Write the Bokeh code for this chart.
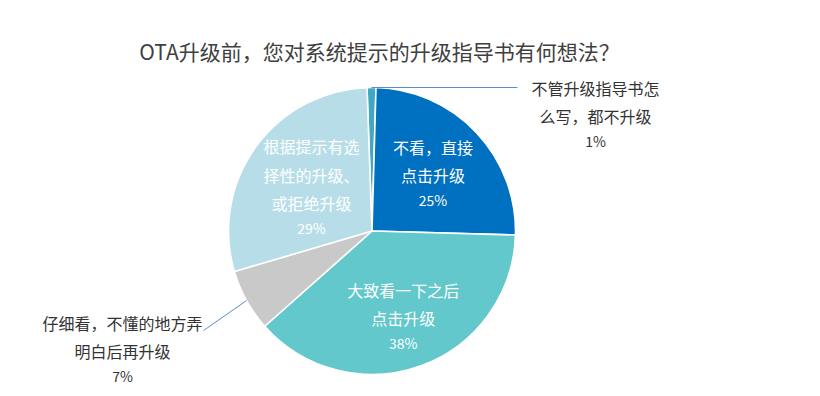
import math
from bokeh.plotting import figure
from bokeh.models import Range1d, ColumnDataSource
from bokeh.embed import file_html
from bokeh.resources import INLINE
from bokeh.core.properties import value

# ---------------- data ----------------
title = "OTA升级前，您对系统提示的升级指导书有何想法？"
categories = [
    "不管升级指导书怎么写，都不升级",
    "不看，直接点击升级",
    "大致看一下之后点击升级",
    "仔细看，不懂的地方弄明白后再升级",
    "根据提示有选择性的升级、或拒绝升级",
]
label_lines = [
    ["不管升级指导书怎", "么写，都不升级"],
    ["不看，直接", "点击升级"],
    ["大致看一下之后", "点击升级"],
    ["仔细看，不懂的地方弄", "明白后再升级"],
    ["根据提示有选", "择性的升级、", "或拒绝升级"],
]
values = [1, 25, 38, 7, 29]
pct_labels = ["1%", "25%", "38%", "7%", "29%"]

# ---------------- style ----------------
colors = ["#3FA9C4", "#0070C0", "#62C8CC", "#C9C9C9", "#B7DEE8"]
FONT = "Noto Sans CJK SC"
W, H = 812, 388
CX, CY, R = 371.5, 396 - 230.5, 143.5      # pie centre / radius (data units == px)
START_DEG = 92.0                            # first slice starts slightly left of 12 o'clock
inside = {1: 0.585, 2: 0.635, 4: 0.52}      # label radius factors for inside labels
outside = {0: ((146, 0), (78, 0)), 3: ((-43, -30), (-81, 8))}  # leader offset, label offset (data)
LINE_GAP, PCT_GAP = 28.5, 25

p = figure(width=W, height=H, output_backend="svg", toolbar_location=None,
           x_range=Range1d(0, W), y_range=Range1d(396 - H, 396),
           min_border=0)
p.axis.visible = False
p.grid.visible = False
p.outline_line_color = None
p.background_fill_color = "white"

total = float(sum(values))
cum = 0.0
starts, ends, mids = [], [], []
for v in values:
    a0 = START_DEG - cum / total * 360
    a1 = START_DEG - (cum + v) / total * 360
    starts.append(math.radians(a0))
    ends.append(math.radians(a1))
    mids.append(math.radians((a0 + a1) / 2))
    cum += v

src = ColumnDataSource(dict(start=starts, end=ends, color=colors, cat=categories))
p.wedge(x=CX, y=CY, radius=R, start_angle="start", end_angle="end", direction="clock",
        fill_color="color", line_color="white", line_width=1.6, source=src)

lx, ly, lt, lc = [], [], [], []
px_, py_, pt, pc = [], [], [], []

def add_block(x0, y_first, lines, pct, color):
    for k, t in enumerate(lines):
        lx.append(x0); ly.append(y_first - k * LINE_GAP); lt.append(t); lc.append(color)
    px_.append(x0); py_.append(y_first - (len(lines) - 1) * LINE_GAP - PCT_GAP)
    pt.append(pct); pc.append(color)

for i, f in inside.items():
    ax = CX + f * R * math.cos(mids[i])
    ay = CY + f * R * math.sin(mids[i])
    n = len(label_lines[i])
    block = (n - 1) * LINE_GAP + PCT_GAP
    add_block(ax, ay + block / 2, label_lines[i], pct_labels[i], "white")

for i, (lead, off) in outside.items():
    sx = CX + R * math.cos(mids[i])
    sy = CY + R * math.sin(mids[i])
    ex, ey = sx + lead[0], sy + lead[1]
    p.line([sx, ex], [sy, ey], line_color="#5B8BD0", line_width=1)
    add_block(ex + off[0], ey + off[1], label_lines[i], pct_labels[i], "#333333")

p.text(x=lx, y=ly, text=lt, text_color=lc, text_font=value(FONT), text_font_size="16px",
       text_align="center", text_baseline="middle")
p.text(x=px_, y=py_, text=pt, text_color=pc, text_font=value(FONT), text_font_size="14px",
       text_align="center", text_baseline="middle")

p.text(x=[379], y=[396 - 50], text=[title], text_color="#404040", text_font=value(FONT),
       text_font_size="21px", text_align="center", text_baseline="middle")

open("out.html", "w").write(file_html(p, INLINE))
